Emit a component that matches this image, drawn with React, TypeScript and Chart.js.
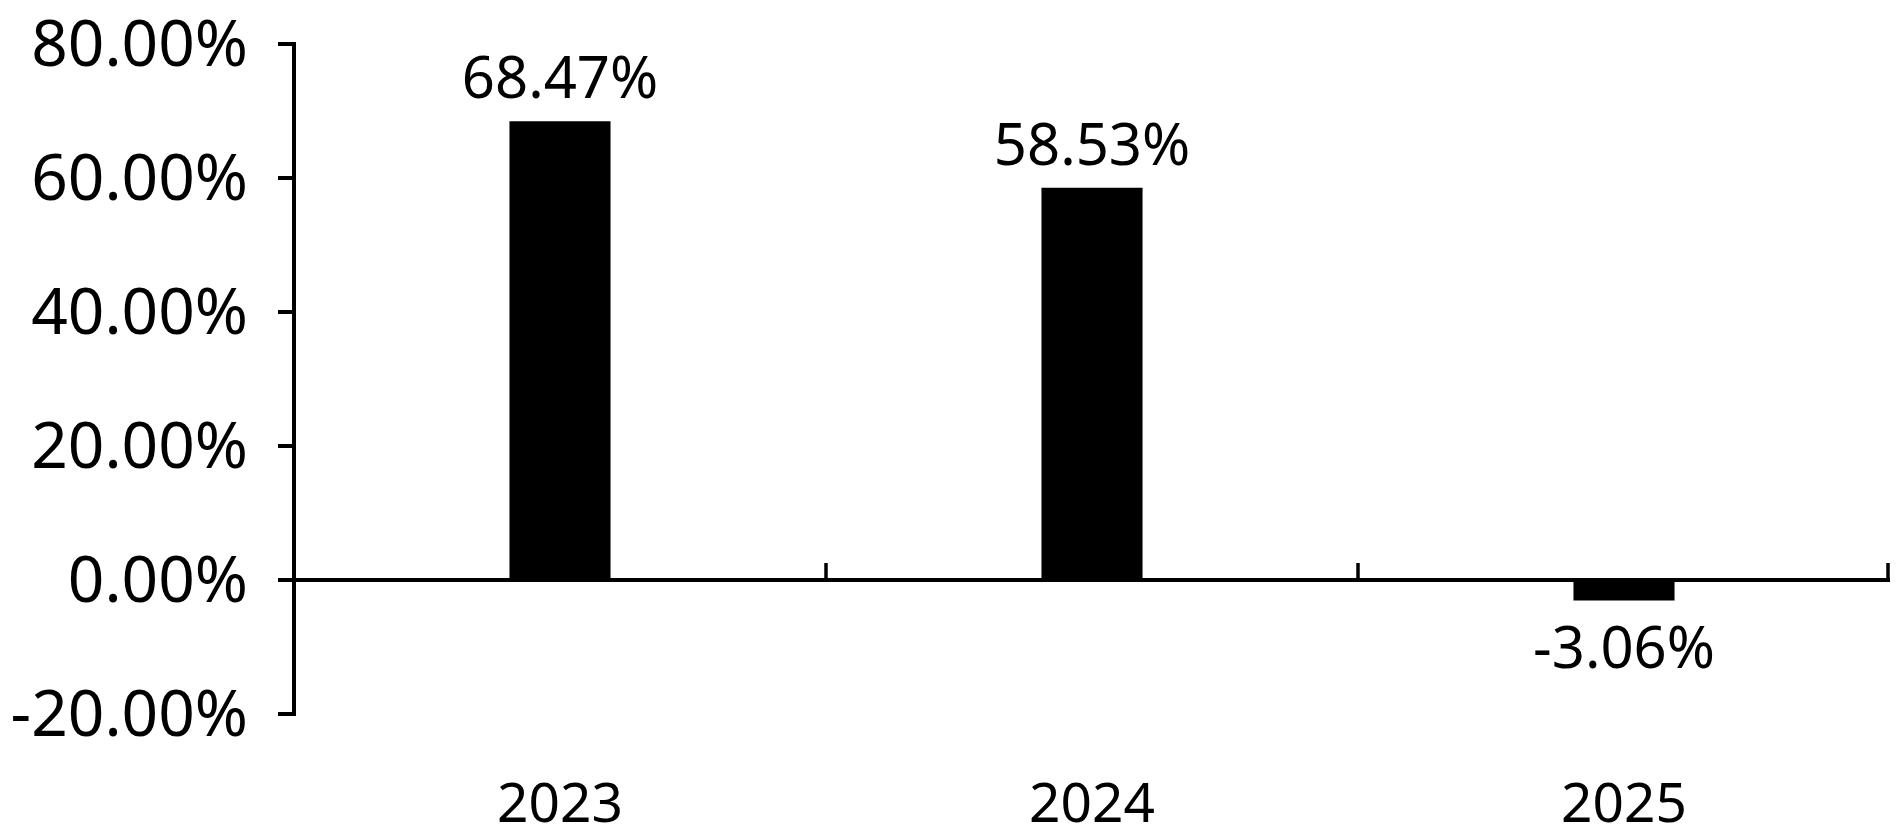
import React, { useEffect, useRef } from "react";
import { Chart, registerables } from "chart.js";

Chart.register(...registerables);

// ---- data ----
const categories: string[] = ["2023", "2024", "2025"];
const returns: number[] = [68.47, 58.53, -3.06];
const yMin = -20;
const yMax = 80;
const yStep = 20;

const FONT = "'Noto Sans', 'Open Sans', sans-serif";
const fmt = (v: number) => `${v.toFixed(2)}%`;

const zeroAxisPlugin = {
  id: "zeroAxisAndLabels",
  afterDatasetsDraw(chart: any) {
    const { ctx, chartArea, scales } = chart;
    const xs = scales.x;
    const ys = scales.y;
    const y0 = ys.getPixelForValue(0);
    ctx.save();
    ctx.strokeStyle = "#000";
    ctx.lineWidth = 4;
    ctx.beginPath();
    ctx.moveTo(chartArea.left, y0);
    ctx.lineTo(chartArea.right, y0);
    ctx.stroke();
    ctx.lineWidth = 3.5;
    for (let i = 0; i <= categories.length; i++) {
      const px = xs.getPixelForValue(i - 0.5);
      const cx = i === categories.length ? px - 2 : px;
      ctx.beginPath();
      ctx.moveTo(cx, y0);
      ctx.lineTo(cx, y0 - 17);
      ctx.stroke();
    }
    // data labels
    const meta = chart.getDatasetMeta(0);
    ctx.fillStyle = "#000";
    ctx.font = `58px ${FONT}`;
    ctx.textAlign = "center";
    ctx.textBaseline = "alphabetic";
    meta.data.forEach((bar: any, i: number) => {
      const v = returns[i];
      const yy = v >= 0 ? bar.y - 23 : bar.y + 67;
      ctx.fillText(fmt(v), bar.x, yy);
    });
    ctx.restore();
  },
};

export default function App() {
  const ref = useRef<HTMLCanvasElement | null>(null);
  useEffect(() => {
    if (!ref.current) return;
    const chart = new Chart(ref.current, {
      type: "bar",
      data: {
        labels: categories,
        datasets: [
          {
            data: returns,
            backgroundColor: "#000",
            borderWidth: 0,
            barPercentage: 0.19,
            categoryPercentage: 1,
          },
        ],
      },
      options: {
        animation: false,
        responsive: true,
        maintainAspectRatio: false,
        layout: { padding: { top: 44, right: 10, bottom: 0, left: 0 } },
        plugins: { legend: { display: false }, tooltip: { enabled: false } },
        scales: {
          x: {
            offset: true,
            grid: { display: false, drawTicks: false },
            border: { display: false },
            ticks: { color: "#000", font: { family: FONT, size: 55 }, padding: 59 },
            afterFit: (s: any) => {
              s.height = 119;
              s.paddingLeft = 0;
              s.paddingRight = 0;
            },
          },
          y: {
            min: yMin,
            max: yMax,
            grid: {
              display: true,
              drawOnChartArea: false,
              drawTicks: true,
              tickLength: 16,
              color: "#000",
              lineWidth: 4,
            },
            border: { display: true, color: "#000", width: 4 },
            ticks: {
              stepSize: yStep,
              color: "#000",
              font: { family: FONT, size: 64 },
              padding: 30,
              labelOffset: 4,
              callback: (v: any) => fmt(Number(v)),
            },
            afterFit: (s: any) => {
              s.width = 294;
              s.paddingTop = 0;
              s.paddingBottom = 0;
            },
          },
        },
      },
      plugins: [zeroAxisPlugin],
    });
    return () => chart.destroy();
  }, []);
  return (
    <div
      style={{
        position: "fixed",
        left: 0,
        top: 0,
        width: 1900,
        height: 833,
        background: "#fff",
      }}
    >
      <canvas ref={ref} />
    </div>
  );
}
